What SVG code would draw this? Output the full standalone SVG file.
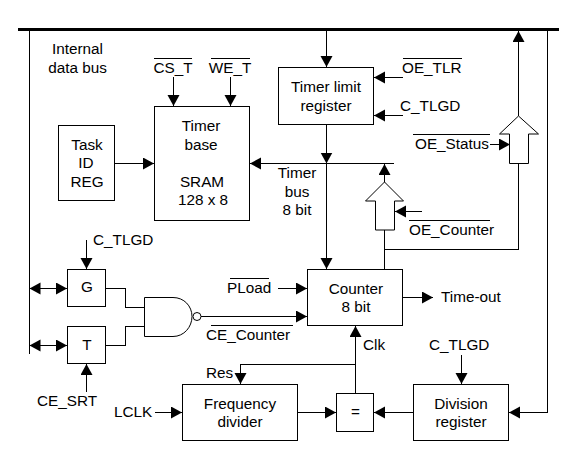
<svg xmlns="http://www.w3.org/2000/svg" width="576" height="470" viewBox="0 0 576 470">
<style>
.b{fill:#fff;stroke:#000;stroke-width:1}
.c{fill:none;stroke:#000;stroke-width:1;shape-rendering:crispEdges}
.a{marker-end:url(#h)}
.o{stroke:#000;stroke-width:1;fill:none;shape-rendering:crispEdges}
text{font-family:"Liberation Sans",Arial,sans-serif;font-size:15.300px;fill:#000}
.m{text-anchor:middle}
</style>
<defs>
<marker id="h" markerUnits="userSpaceOnUse" markerWidth="13" markerHeight="13" refX="11" refY="6" orient="auto-start-reverse"><path d="M0 0L11 6L0 12Z" fill="#000"/></marker>
</defs>
<rect width="576" height="470" fill="#fff"/>
<g id="connectors">
<path d="M18 29.500H559" stroke="#000" stroke-width="3" fill="none"/>
<path class="c" d="M29.500 29V354"/>
<path class="c" d="M547.500 29V412.500"/>
<path class="c a" d="M547.500 412.500H509"/>
<path class="c a" d="M326.500 30V67"/>
<path class="c a" d="M326.500 124V163.500"/>
<path class="c a" d="M326.500 163V269"/>
<path class="c" d="M249 163.500H394"/>
<path class="c a" d="M280 163.500H250"/>
<path class="c a" d="M114 163.500H154"/>
<path class="c a" d="M173.500 77V106"/>
<path class="c a" d="M230.500 77V106"/>
<path class="c a" d="M403 77.500H374"/>
<path class="c a" d="M403 115.500H374"/>
<path class="c a" d="M384.500 182V164"/>
<path class="c" d="M384.500 230V269M384.500 249.500H518.500V163"/>
<path class="c a" d="M518.500 116V31"/>
<path class="c a" d="M490 144.500H510"/>
<path class="c a" d="M422 211.500H395"/>
<path class="c a" d="M86.500 240V269"/>
<path class="c a" d="M86.500 392V364"/>
<path class="c" d="M29.500 288.500H67" marker-start="url(#h)" marker-end="url(#h)"/>
<path class="c" d="M29.500 345.500H67" marker-start="url(#h)" marker-end="url(#h)"/>
<path class="c" d="M105.500 288.500H125.500V307.500H144.500M105.500 345.500H125.500V326.500H144.500"/>
<path class="c a" d="M201 316.500H307"/>
<path class="c a" d="M278 288.500H307"/>
<path class="c a" d="M402 297.500H433"/>
<path class="c a" d="M355.500 393V326"/>
<path class="c a" d="M355.500 364.500H240.500V384"/>
<path class="c a" d="M155 412.500H182"/>
<path class="c a" d="M297 412.500H336"/>
<path class="c a" d="M413 412.500H374"/>
<path class="c a" d="M461.500 355V384"/>
</g>
<g id="bus-arrow-status"><path class="b" d="M518.500 116L538.500 134H528.500V163.500H509.500V134H499.500Z"/></g>
<g id="bus-arrow-counter"><path class="b" d="M384.500 182L403.500 201H394.500V230H375.500V201H365.500Z"/></g>
<g id="task-id-reg"><rect class="b" x="58.500" y="125.500" width="56" height="75"/><text class="m" x="87" y="150">Task</text><text class="m" x="86" y="168">ID</text><text class="m" x="87" y="187">REG</text></g>
<g id="timer-base"><rect class="b" x="154.500" y="106.500" width="95" height="114"/><text class="m" x="201" y="131">Timer</text><text class="m" x="201" y="150">base</text><text class="m" x="202" y="187">SRAM</text><text class="m" x="203" y="205">128 x 8</text></g>
<g id="timer-limit-register"><rect class="b" x="278.500" y="67.500" width="95" height="57"/><text class="m" x="326" y="92">Timer limit</text><text class="m" x="326" y="111">register</text></g>
<g id="counter"><rect class="b" x="307.500" y="269.500" width="95" height="56"/><text class="m" x="356" y="294">Counter</text><text class="m" x="356" y="312">8 bit</text></g>
<g id="g"><rect class="b" x="67.500" y="269.500" width="38" height="37"/><text class="m" x="87" y="292">G</text></g>
<g id="t"><rect class="b" x="67.500" y="326.500" width="38" height="37"/><text class="m" x="87" y="350">T</text></g>
<g id="nand"><path class="b" d="M144.500 297.500H173C184 297.500 192 306 192 316.500C192 327 184 336.500 173 336.500H144.500Z"/><circle class="b" cx="197" cy="316.500" r="4"/></g>
<g id="frequency-divider"><rect class="b" x="182.500" y="384.500" width="115" height="56"/><text class="m" x="240" y="409">Frequency</text><text class="m" x="240" y="427">divider</text></g>
<g id="comparator"><rect class="b" x="336.500" y="393.500" width="37" height="38"/><text class="m" x="355.500" y="417">=</text></g>
<g id="division-register"><rect class="b" x="413.500" y="384.500" width="95" height="56"/><text class="m" x="461" y="409">Division</text><text class="m" x="461" y="427">register</text></g>
<g id="labels">
<text class="m" x="77.500" y="54">Internal</text><text class="m" x="77.500" y="73">data bus</text>
<text class="m" x="173" y="73">CS_T</text><text class="m" x="230" y="73">WE_T</text>
<text x="402" y="73">OE_TLR</text><text x="400" y="111">C_TLGD</text>
<text x="415" y="149">OE_Status</text><text x="409" y="235">OE_Counter</text>
<text class="m" x="297" y="178">Timer</text><text class="m" x="297" y="197">bus</text><text class="m" x="297" y="215">8 bit</text>
<text x="93" y="245">C_TLGD</text><text x="37" y="406">CE_SRT</text>
<text x="227" y="293">PLoad</text><text x="206" y="340">CE_Counter</text>
<text x="206" y="378">Res</text><text x="114" y="417">LCLK</text><text x="363" y="350">Clk</text>
<text x="429" y="350">C_TLGD</text><text x="441" y="302">Time-out</text>
<path class="o" d="M154 58.500H192M211 58.500H250M403 58.500H462M413 134.500H490M409 220.500H490M230 278.500H269M211 325.500H293"/>
</g>
</svg>
